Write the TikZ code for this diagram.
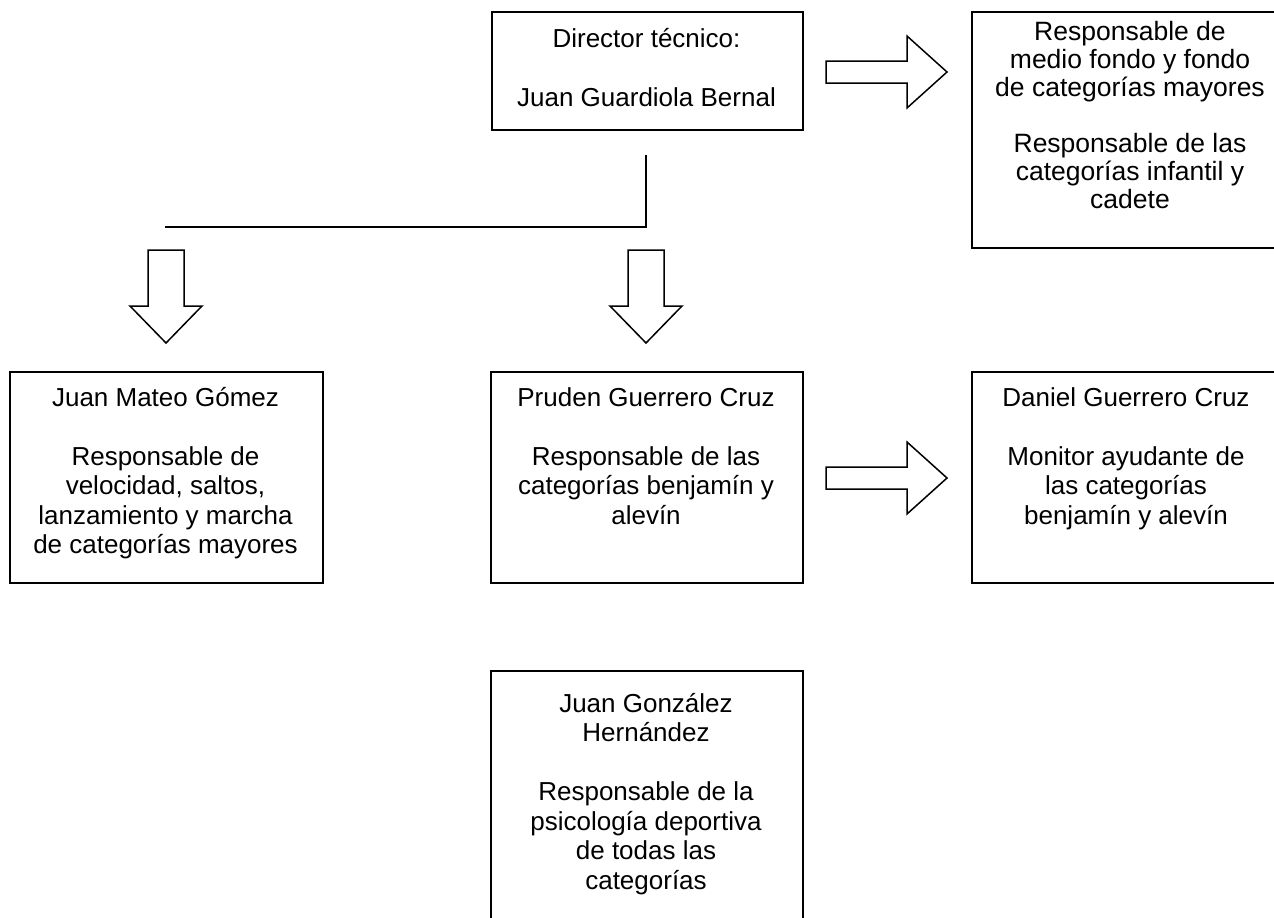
\documentclass[tikz,border=0pt]{standalone}
\usepackage{fontspec}
\setmainfont{Liberation Sans}
\newcommand\mytxt[1]{\begin{tabular}[t]{@{}c@{}}#1\end{tabular}}
\tikzset{
  box/.style={draw, line width=1.5pt, anchor=north west, inner sep=0pt},
  txt/.style={anchor=base, inner sep=0pt, font=\fontsize{26}{29.5}\selectfont},
  txttight/.style={anchor=base, inner sep=0pt, font=\fontsize{26.5}{28}\selectfont},
  arr/.style={draw, line width=1.5pt, line join=miter, fill=white},
  conn/.style={draw, line width=1.5pt},
  rarrow/.pic={\path[arr] (0,-11) -- (81,-11) -- (81,-36) -- (121,0) -- (81,36) -- (81,11) -- (0,11) -- cycle;},
  darrow/.pic={\path[arr] (-18,0) -- (18,0) -- (18,56) -- (36,56) -- (0,93) -- (-36,56) -- (-18,56) -- cycle;}
}
\begin{document}
\begin{tikzpicture}[x=1pt,y=-1pt]
\useasboundingbox (0,0) rectangle (1274,918);
\clip (0,0) rectangle (1274,918);
% boxes
\node[box, minimum width=311pt, minimum height=118pt] (dir) at (491,11) {};
\node[box, minimum width=318pt, minimum height=236pt] (tr) at (971,11) {};
\node[box, minimum width=313pt, minimum height=211pt] (jm) at (9,371) {};
\node[box, minimum width=312pt, minimum height=211pt] (pr) at (490,371) {};
\node[box, minimum width=316pt, minimum height=211pt] (dg) at (971,371) {};
\node[box, minimum width=312pt, minimum height=280pt] (jg) at (490,670) {};
% texts
\node[txt] (dirt) at (646.5,47) {\mytxt{Director técnico:\\ \\ Juan Guardiola Bernal}};
\node[txttight] (trt) at (1130,40) {\mytxt{Responsable de\\ medio fondo y fondo\\ de categorías mayores\\ \\ Responsable de las\\ categorías infantil y\\ cadete}};
\node[txt] (jmt) at (165.5,406) {\mytxt{Juan Mateo Gómez\\ \\ Responsable de\\ velocidad, saltos,\\ lanzamiento y marcha\\ de categorías mayores}};
\node[txt] (prt) at (646,406) {\mytxt{Pruden Guerrero Cruz\\ \\ Responsable de las\\ categorías benjamín y\\ alevín}};
\node[txt] (dgt) at (1126,406) {\mytxt{Daniel Guerrero Cruz\\ \\ Monitor ayudante de\\ las categorías\\ benjamín y alevín}};
\node[txt] (jgt) at (646,712) {\mytxt{Juan González\\ Hernández\\ \\ Responsable de la\\ psicología deportiva\\ de todas las\\ categorías}};
% connector
\coordinate (ltop) at (646,155);
\coordinate (lcorner) at (646,227);
\coordinate (lend) at (165,227);
\path[conn] (ltop) -- (lcorner) -- (lend);
% block arrows
\pic at (826,72) {rarrow};
\pic at (826,478) {rarrow};
\pic at (166,250) {darrow};
\pic at (646,250) {darrow};
\end{tikzpicture}
\end{document}
